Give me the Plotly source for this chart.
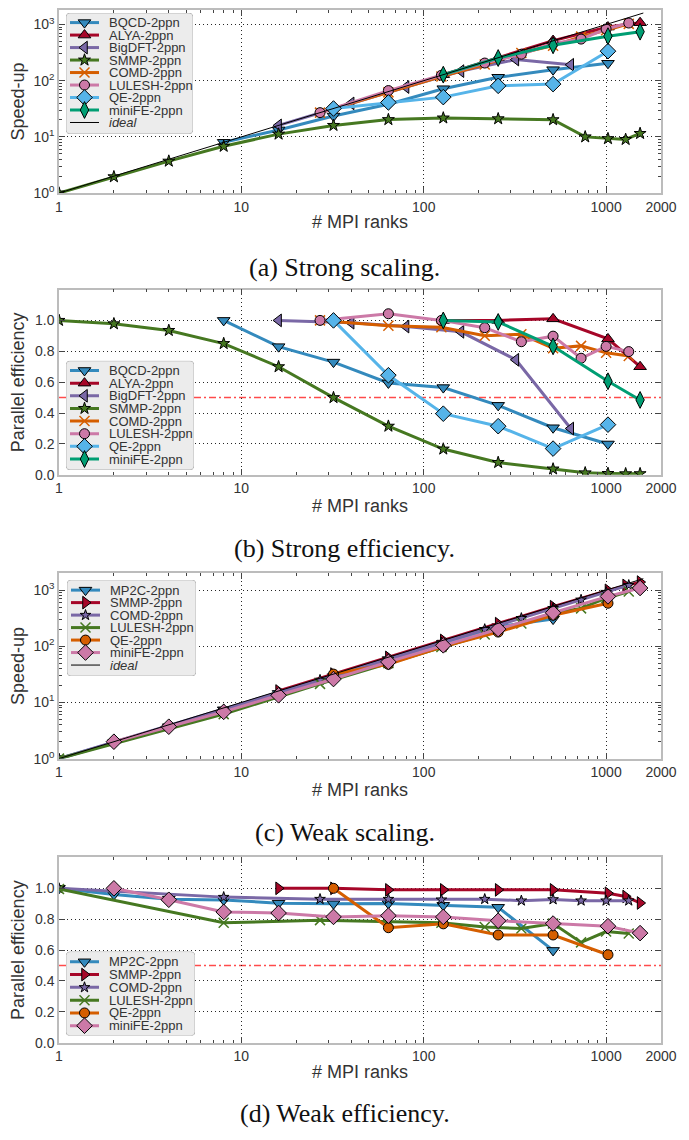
import math
import plotly.graph_objects as go

# The page body adds an 8px margin, so positions below are page pixels
OFF = 8
W, H = 681, 1130
ML_PAGE = 59
PW = 602
ML = ML_PAGE - OFF
MR = W - ML - PW


def py(p):
    return min(1.0, max(0.0, 1 - (p - OFF) / H))


def pxx(p):
    return (p - ML_PAGE) / PW


SANS = "Liberation Sans, Arial, sans-serif"
SERIF = "Liberation Serif, Times New Roman, serif"

# ---------------- Strong scaling data ----------------
bqcd_x = [8, 16, 32, 64, 128, 256, 512, 1024]
bqcd_su = [8, 13.3, 23.5, 38, 72, 115, 157, 204]
bqcd_eff = [1.0, 0.83, 0.73, 0.595, 0.565, 0.45, 0.305, 0.20]

alya_x = [128, 256, 512, 1024, 1536]
alya_su = [128, 256, 517, 900, 1075]
alya_eff = [1.0, 1.0, 1.01, 0.88, 0.70]

bigdft_x = [16, 40, 80, 160, 320, 640]
bigdft_su = [16, 39.4, 77, 148, 238, 192]
bigdft_eff = [1.0, 0.985, 0.96, 0.926, 0.745, 0.30]

smmp_x = [1, 2, 4, 8, 16, 32, 64, 128, 256, 512, 768, 1024, 1280, 1536]
smmp_su = [1, 1.95, 3.7, 6.8, 11.2, 16, 20.3, 21.7, 21, 20.2, 10, 9.3, 9, 11.5]
smmp_eff = [1.0, 0.978, 0.935, 0.85, 0.70, 0.50, 0.315, 0.167, 0.08, 0.038, 0.013, 0.009, 0.007, 0.0075]

comd_x = [27, 64, 125, 216, 343, 512, 729, 1000, 1331]
comd_su = [27, 62, 119, 194, 312, 420, 608, 790, 1025]
comd_eff = [1.0, 0.965, 0.955, 0.90, 0.91, 0.82, 0.835, 0.79, 0.77]

lulesh_x = [27, 64, 125, 216, 343, 512, 729, 1000, 1331]
lulesh_su = [27, 66.7, 125, 206, 296, 460, 550, 832, 1062]
lulesh_eff = [1.0, 1.043, 1.0, 0.953, 0.862, 0.898, 0.755, 0.832, 0.798]

qe_x = [32, 64, 128, 256, 512, 1024]
qe_su = [32, 41, 51, 81, 87, 335]
qe_eff = [1.0, 0.645, 0.396, 0.315, 0.17, 0.325]

minife_x = [128, 256, 512, 1024, 1536]
minife_su = [128, 253, 426, 620, 745]
minife_eff = [1.0, 0.99, 0.832, 0.606, 0.485]

ideal_x = [1, 1600]
ideal_y = [1, 1600]

# ---------------- Weak scaling data ----------------
w_mp2c_x = [1, 2, 4, 8, 16, 32, 64, 128, 256, 512]
w_mp2c_su = [1, 1.92, 3.7, 7.4, 14.5, 28.8, 57.8, 114, 224, 305]
w_mp2c_eff = [1.0, 0.96, 0.93, 0.925, 0.904, 0.90, 0.902, 0.89, 0.877, 0.598]

w_smmp_x = [16, 32, 64, 128, 256, 512, 1024, 1280, 1536]
w_smmp_su = [16, 32, 63.4, 127, 253, 507, 991, 1212, 1390]
w_smmp_eff = [1.0, 1.0, 0.99, 0.99, 0.99, 0.99, 0.968, 0.947, 0.905]

w_comd_x = [1, 8, 27, 64, 125, 216, 343, 512, 729, 1000, 1331]
w_comd_su = [1, 7.5, 25.1, 59.5, 116, 201, 316, 476, 671, 920, 1225]
w_comd_eff = [1.0, 0.943, 0.93, 0.93, 0.926, 0.93, 0.92, 0.928, 0.92, 0.92, 0.92]

w_lulesh_x = [1, 8, 27, 64, 125, 216, 343, 512, 729, 1000, 1331]
w_lulesh_su = [1, 6.2, 21.4, 50.1, 97, 162, 254, 394, 473, 717, 942]
w_lulesh_eff = [0.995, 0.777, 0.794, 0.785, 0.777, 0.75, 0.74, 0.772, 0.65, 0.72, 0.707]

w_qe_x = [32, 64, 128, 256, 512, 1024]
w_qe_su = [32, 47.7, 98.6, 179, 357, 584]
w_qe_eff = [1.0, 0.745, 0.77, 0.698, 0.698, 0.57]

w_minife_x = [2, 4, 8, 16, 32, 64, 128, 256, 512, 1024, 1536]
w_minife_su = [2, 3.7, 6.8, 13.4, 26.1, 52.7, 104, 202, 395, 773, 1091]
w_minife_eff = [1.0, 0.926, 0.847, 0.84, 0.815, 0.823, 0.815, 0.79, 0.772, 0.755, 0.71]

x_tick_vals = [1, 10, 100, 1000, 2000]
x_tick_text = ["1", "10", "100", "1000", "2000"]
logy_tick_vals = [1, 10, 100, 1000]
logy_tick_text = ["10<sup>0</sup>", "10<sup>1</sup>", "10<sup>2</sup>", "10<sup>3</sup>"]
eff_tick_vals = [0.0, 0.2, 0.4, 0.6, 0.8, 1.0]
eff_tick_text = ["0.0", "0.2", "0.4", "0.6", "0.8", "1.0"]

captions = ["(a) Strong scaling.", "(b) Strong efficiency.", "(c) Weak scaling.", "(d) Weak efficiency."]

# style: (name, color, symbol, size, edge)
strong_styles = [
    ("BQCD-2ppn", "#348ABD", "triangle-down", 11, True),
    ("ALYA-2ppn", "#A60628", "triangle-up", 11, True),
    ("BigDFT-2ppn", "#7A68A6", "triangle-left", 11, True),
    ("SMMP-2ppn", "#467821", "star", 9, True),
    ("COMD-2ppn", "#D55E00", "x-thin-open", 10, False),
    ("LULESH-2ppn", "#CC79A7", "circle", 10, True),
    ("QE-2ppn", "#56B4E9", "diamond", 12, True),
    ("miniFE-2ppn", "#009E73", "diamond-tall", 12, True),
]
strong_x = [bqcd_x, alya_x, bigdft_x, smmp_x, comd_x, lulesh_x, qe_x, minife_x]
strong_su = [bqcd_su, alya_su, bigdft_su, smmp_su, comd_su, lulesh_su, qe_su, minife_su]
strong_eff = [bqcd_eff, alya_eff, bigdft_eff, smmp_eff, comd_eff, lulesh_eff, qe_eff, minife_eff]

weak_styles = [
    ("MP2C-2ppn", "#348ABD", "triangle-down", 11, True),
    ("SMMP-2ppn", "#A60628", "triangle-right", 11, True),
    ("COMD-2ppn", "#7A68A6", "star", 8, True),
    ("LULESH-2ppn", "#467821", "x-thin-open", 10, False),
    ("QE-2ppn", "#D55E00", "circle", 10, True),
    ("miniFE-2ppn", "#CC79A7", "diamond", 12, True),
]
weak_x = [w_mp2c_x, w_smmp_x, w_comd_x, w_lulesh_x, w_qe_x, w_minife_x]
weak_su = [w_mp2c_su, w_smmp_su, w_comd_su, w_lulesh_su, w_qe_su, w_minife_su]
weak_eff = [w_mp2c_eff, w_smmp_eff, w_comd_eff, w_lulesh_eff, w_qe_eff, w_minife_eff]

fig = go.Figure()

# panel plot-area page-pixel extents (top, bottom) and y-ranges
panels = [(8, 192.7), (290, 477), (576.3, 763.3), (863, 1050)]
yranges = [[0, 3.258], [0, 1.2], [0, 3.3], [0, 1.2]]
xtitle_y = [222, 508, 795, 1079]
caption_y = [268, 551, 838, 1121]


def marker_dict(color, symbol, size, edge):
    if edge:
        return dict(symbol=symbol, size=size, color=color, line=dict(color="black", width=1))
    return dict(symbol=symbol, size=size, color=color, line=dict(color=color, width=1.5))


def add_series(i, styles, xs, ys):
    ax = "" if i == 1 else str(i)
    for (name, color, sym, size, edge), x, y in zip(styles, xs, ys):
        fig.add_trace(go.Scatter(
            x=x, y=y, mode="lines+markers", name=name,
            line=dict(color=color, width=3),
            marker=marker_dict(color, sym, size, edge),
            xaxis="x" + ax, yaxis="y" + ax, showlegend=False,
        ))


add_series(1, strong_styles, strong_x, strong_su)
fig.add_trace(go.Scatter(x=ideal_x, y=ideal_y, mode="lines", line=dict(color="black", width=1),
                         xaxis="x", yaxis="y", showlegend=False))
add_series(2, strong_styles, strong_x, strong_eff)
add_series(3, weak_styles, weak_x, weak_su)
fig.add_trace(go.Scatter(x=ideal_x, y=ideal_y, mode="lines", line=dict(color="black", width=1),
                         xaxis="x3", yaxis="y3", showlegend=False))
add_series(4, weak_styles, weak_x, weak_eff)

minor_log = [m * 10 ** e for e in range(4) for m in range(2, 10)]

common = dict(
    showline=True, linecolor="#bcbcbc", linewidth=1.5, mirror="allticks",
    ticks="inside", ticklen=6, tickcolor="#444", tickwidth=1,
    showgrid=True, gridcolor="rgba(0,0,0,0.85)", gridwidth=1, griddash="1px,3px",
    zeroline=False, tickfont=dict(family=SANS, size=14, color="#333"),
)

for i, (top, bot) in enumerate(panels, start=1):
    ax = "" if i == 1 else str(i)
    xa = dict(common)
    xa.update(type="log", range=[0, 3.30103], tickmode="array", tickvals=x_tick_vals, ticktext=x_tick_text,
              anchor="y" + ax,
              minor=dict(tickmode="array", tickvals=[v for v in minor_log if v < 1000], ticks="inside",
                         ticklen=3, tickcolor="#444", showgrid=False))
    ya = dict(common)
    ya["domain"] = [py(bot), py(top)]
    ya["anchor"] = "x" + ax
    if i in (1, 3):
        ya.update(type="log", range=yranges[i - 1], tickmode="array", tickvals=logy_tick_vals,
                  ticktext=logy_tick_text,
                  minor=dict(tickmode="array", tickvals=[v for v in minor_log if v < 2000], ticks="inside",
                             ticklen=3, tickcolor="#444", showgrid=False))
    else:
        ya.update(range=yranges[i - 1], tickmode="array", tickvals=eff_tick_vals, ticktext=eff_tick_text)
    fig.layout["xaxis" + ax] = xa
    fig.layout["yaxis" + ax] = ya

    fig.add_annotation(x=0.5, y=py(xtitle_y[i - 1]), xref="paper", yref="paper", text="# MPI ranks",
                       showarrow=False, font=dict(family=SANS, size=18, color="#333"),
                       xanchor="center", yanchor="middle")
    fig.add_annotation(x=pxx(18), y=py((top + bot) / 2), xref="paper", yref="paper",
                       text="Speed-up" if i in (1, 3) else "Parallel efficiency", textangle=-90,
                       showarrow=False, font=dict(family=SANS, size=18, color="#333"),
                       xanchor="center", yanchor="middle")
    fig.add_annotation(x=pxx(344.5), y=py(caption_y[i - 1]), xref="paper", yref="paper", text=captions[i - 1],
                       showarrow=False, font=dict(family=SERIF, size=26, color="#111"),
                       xanchor="center", yanchor="middle")

for ax in ("2", "4"):
    fig.add_shape(type="line", xref="x" + ax + " domain", yref="y" + ax, x0=0, x1=1, y0=0.5, y1=0.5,
                  line=dict(color="rgba(255,30,30,0.8)", width=1.5, dash="7px,3px,2px,3px"), layer="below")


def rounded_rect(w, h, r):
    pts_x, pts_y = [], []
    corners = [(w - r, r, -90), (w - r, h - r, 0), (r, h - r, 90), (r, r, 180)]
    for cx, cy, start in corners:
        for k in range(6):
            a = math.radians(start + 18 * k)
            pts_x.append(cx + r * math.cos(a))
            pts_y.append(cy + r * math.sin(a))
    pts_x.append(pts_x[0])
    pts_y.append(pts_y[0])
    return pts_x, pts_y


def add_legend(idx, box, first, step, styles, with_ideal):
    L, R, T, B = box
    w, h = R - L, B - T
    xr, yr = "x%d" % idx, "y%d" % idx
    fig.layout["xaxis%d" % idx] = dict(domain=[pxx(L), pxx(R)], range=[0, w], visible=False,
                                        anchor=yr, fixedrange=True)
    fig.layout["yaxis%d" % idx] = dict(domain=[py(B), py(T)], range=[h, 0], visible=False,
                                        anchor=xr, fixedrange=True)
    bx, by = rounded_rect(w, h, 4)
    fig.add_trace(go.Scatter(x=bx, y=by, mode="lines", fill="toself", fillcolor="#ececec",
                             line=dict(color="#b8b8b8", width=1), xaxis=xr, yaxis=yr,
                             hoverinfo="skip", showlegend=False))
    entries = list(styles)
    if with_ideal:
        entries.append(("<i>ideal</i>", "black", None, 0, False))
    for k, (name, color, sym, size, edge) in enumerate(entries):
        yy = first - T + step * k
        fig.add_trace(go.Scatter(x=[4, 33], y=[yy, yy], mode="lines",
                                 line=dict(color=color, width=1 if sym is None else 3),
                                 xaxis=xr, yaxis=yr, hoverinfo="skip", showlegend=False))
        if sym is not None:
            fig.add_trace(go.Scatter(x=[18.5], y=[yy], mode="markers", marker=marker_dict(color, sym, size, edge),
                                     xaxis=xr, yaxis=yr, hoverinfo="skip", showlegend=False))
        fig.add_annotation(x=42, y=yy, xref=xr, yref=yr, text=name, showarrow=False, borderpad=0,
                           xanchor="left", yanchor="middle", font=dict(family=SANS, size=13, color="#333"))


add_legend(5, (66, 193, 11, 133), 20.7, 12.6, strong_styles, True)
add_legend(6, (66, 194, 362, 472), 371.7, 12.76, strong_styles, False)
add_legend(7, (67, 196, 583, 680), 593.3, 12.6, weak_styles, True)
add_legend(8, (66, 195, 958, 1043), 968.3, 12.9, weak_styles, False)

fig.update_layout(
    width=W, height=H, margin=dict(l=ML, r=MR, t=0, b=0),
    paper_bgcolor="white", plot_bgcolor="white", showlegend=False,
    font=dict(family=SANS, color="#333"),
)

fig.write_html("out.html")
